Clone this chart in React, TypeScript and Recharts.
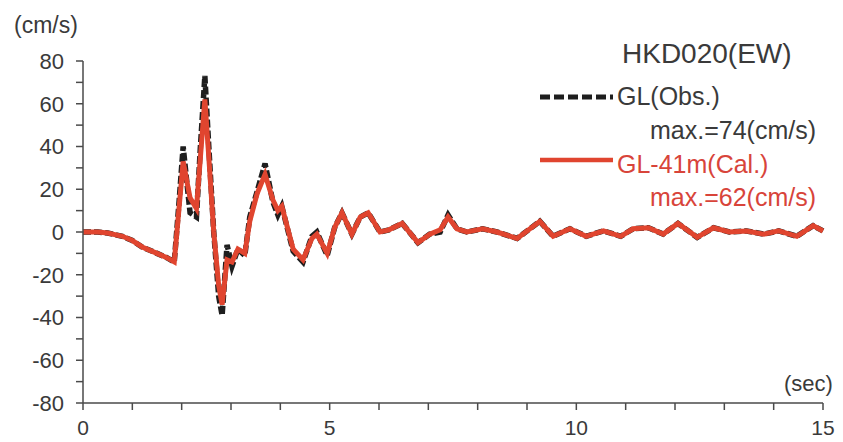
import { CartesianGrid, Line, LineChart, XAxis, YAxis } from "recharts";

// time (sec) and velocity (cm/s)
const times = [
  0, 0.3, 0.5, 0.8, 1.0, 1.2, 1.5, 1.7, 1.85, 1.95, 2.03, 2.12, 2.17, 2.3, 2.38, 2.47, 2.55, 2.65, 2.75, 2.82,
  2.92, 3.02, 3.14, 3.28, 3.38, 3.53, 3.69, 3.85, 3.95, 4.03, 4.26, 4.46, 4.64, 4.74, 4.95, 5.1, 5.25, 5.45,
  5.62, 5.78, 6.02, 6.2, 6.47, 6.79, 7.03, 7.24, 7.4, 7.58, 7.78, 8.1, 8.39, 8.8, 9.26, 9.53, 9.87, 10.2,
  10.55, 10.9, 11.15, 11.46, 11.76, 12.06, 12.45, 12.78, 13.1, 13.45, 13.8, 14.1, 14.47, 14.8, 15.0,
];

const obsValues = [
  0, 0, -0.5, -2, -4, -7, -10, -12, -14, 15, 40, 20, 9, 7, 40, 73, 40, 0, -30, -39,
  -6, -16, -8, -11, 7, 19, 32, 14, 8, 12, -9, -14, -2, 0, -11, 2, 9, -1,
  7, 9, 0, 1, 4, -5, -1, 0, 8, 1.5, 0, 1.5, 0, -3, 5, -2, 1.5, -2,
  0.5, -2, 1.5, 2, -1, 4, -2.5, 2, 0, 0.5, -1, 0.5, -2, 3, 0.5,
];

const calValues = [
  0, 0, -0.5, -2, -4, -7, -10, -12, -14, 12, 33, 22, 16, 11, 35, 62, 35, 0, -25, -34,
  -13, -14, -8, -10, 5, 18, 27, 15, 10, 12, -8, -13, -3, -1, -10, 2, 9, -1,
  7, 9, 0, 1, 4, -5, -1, 1, 7, 1.5, 0, 1.5, 0, -3, 5, -2, 1.5, -2,
  0.5, -2, 1.5, 2, -1, 4, -2.5, 2, 0, 0.5, -1, 0.5, -2, 3, 0.5,
];

const xTicks = [0, 1, 2, 3, 4, 5, 6, 7, 8, 9, 10, 11, 12, 13, 14, 15];
const yTicks = [-80, -70, -60, -50, -40, -30, -20, -10, 0, 10, 20, 30, 40, 50, 60, 70, 80];

const FONT = "'Liberation Sans', Arial, Helvetica, sans-serif";
const AXIS = "#4a4a4a";
const TEXT = "#3a3a3a";
const RED = "#e0452f";

export default function App() {
  const data = times.map((t, i) => ({ t, obs: obsValues[i], cal: calValues[i] }));

  return (
    <div style={{ position: "absolute", left: 0, top: 0, width: 843, height: 442, background: "#fff", fontFamily: FONT }}>
      <LineChart width={843} height={442} data={data} margin={{ top: 61, right: 20, bottom: 9, left: 23 }}>
        <CartesianGrid stroke="none" />
        <XAxis
          dataKey="t"
          type="number"
          domain={[0, 15]}
          ticks={xTicks}
          interval={0}
          height={30}
          tickFormatter={(v: number) => (v % 5 === 0 ? String(v) : "")}
          tick={{ fontSize: 21, fill: TEXT, fontFamily: FONT }}
          tickSize={7}
          tickMargin={10}
          stroke={AXIS}
          strokeWidth={1.5}
        />
        <YAxis
          type="number"
          domain={[-80, 80]}
          ticks={yTicks}
          interval={0}
          width={60}
          tickFormatter={(v: number) => (v % 20 === 0 ? String(v) : "")}
          tick={{ fontSize: 22, fill: TEXT, fontFamily: FONT }}
          tickSize={7}
          tickMargin={12}
          stroke={AXIS}
          strokeWidth={1.5}
        />
        <Line
          type="linear"
          dataKey="obs"
          stroke="#1e1e1e"
          strokeWidth={5.5}
          strokeDasharray="8 3"
          dot={false}
          isAnimationActive={false}
        />
        <Line type="linear" dataKey="cal" stroke={RED} strokeWidth={5} dot={false} isAnimationActive={false} />
      </LineChart>

      <svg
        width={843}
        height={442}
        style={{ position: "absolute", left: 0, top: 0, pointerEvents: "none" }}
        fontFamily={FONT}
      >
        <text x={14} y={25} fontSize={23} fill={TEXT} dominantBaseline="central">
          (cm/s)
        </text>
        <text x={784} y={383} fontSize={22} fill={TEXT} dominantBaseline="central">
          (sec)
        </text>
        <text x={622} y={53} fontSize={28} fill={TEXT} dominantBaseline="central">
          HKD020(EW)
        </text>
        <line x1={540} y1={97} x2={613} y2={97} stroke="#1e1e1e" strokeWidth={5} strokeDasharray="10 4" />
        <text x={617} y={96} fontSize={25} fill={TEXT} dominantBaseline="central">
          GL(Obs.)
        </text>
        <text x={650} y={130} fontSize={25} fill={TEXT} dominantBaseline="central">
          max.=74(cm/s)
        </text>
        <line x1={540} y1={160} x2={613} y2={160} stroke={RED} strokeWidth={4.5} />
        <text x={617} y={164} fontSize={25} fill="#d8443a" dominantBaseline="central">
          GL-41m(Cal.)
        </text>
        <text x={650} y={197} fontSize={25} fill="#d8443a" dominantBaseline="central">
          max.=62(cm/s)
        </text>
      </svg>
    </div>
  );
}
